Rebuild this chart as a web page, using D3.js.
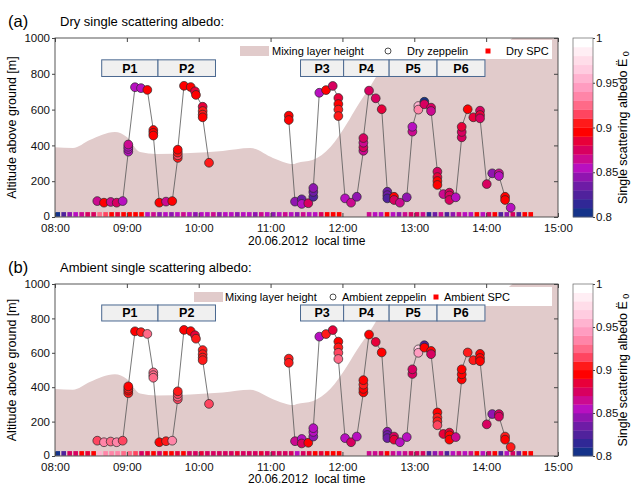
<!DOCTYPE html>
<html><head><meta charset="utf-8">
<script src="https://cdn.jsdelivr.net/npm/d3@7"></script>
<style>body{margin:0;background:#fff} svg{font-family:"Liberation Sans",Arial,sans-serif}</style>
</head><body><svg id="c" width="633" height="486"></svg>
<script>
// ---------- data ----------
// Mixing layer height (minutes after 08:00, metres)
const mlhTime   = [0, 15, 29, 50, 60, 71, 85, 113, 140, 163, 182, 199, 202, 215, 230, 244, 252, 263, 271, 288, 322, 360, 382, 420];
const mlhHeight = [389, 385, 430, 475, 447, 363, 352, 358, 369, 385, 330, 296, 302, 318, 391, 525, 615, 726, 804, 838, 860, 883, 1000, 1200];

// Zeppelin measurements (minutes after 08:00)
const zepTime = [35.3,40.9,46.5,51.5,56.5, 61.2,61.2,61.2,61.2, 66.8,71.8,77.1, 82.1,82.1,82.1, 87.1,92.7,97.9,
  102.5,102.5,102.5,102.5, 107.7,113.3,116.9,117.7, 123.3,123.3,123.3,123.3, 128.6,
  195.2,195.2, 200.4,206,206,211.5, 215.7,215.7,215.7, 220.7,226.3,231.9, 236.6,236.6,236.6,236.6,
  242.2,247.2,252, 257.5,257.5,257.5,257.5, 262.2,267.8,272.8, 277.5,277.5,277.5, 283.1,283.1, 288,293.7,
  298.4,298.4, 303.4,303.4, 308.4,308.4, 314,314, 319.3,319.3,319.3,319.3, 324.3, 329.3,329.3,329.3, 334.6,
  339.6,339.6,339.6, 344.6,349.3, 354.9,354.9,354.9, 360.5,365.1, 370.7,370.7, 375.8,375.8, 380.5];
const zepAlt = [89,80,84,80,89, 365,380,392,405, 725,720,710, 486,470,455, 80,86,89, 330,345,360,376,
  733,726,702,682, 616,592,572,557, 303,
  566,542, 86,99,73,77, 113,140,162, 694,709,732, 665,631,600,564, 104,80,113, 370,390,415,441,
  706,663,602, 141,122,104, 113,95, 80,110, 477,504, 620,600, 644,630, 611,592, 253,223,201,179, 128,
  136,120,95, 110, 445,475,504, 602,557, 594,570,551, 184,244, 244,229, 113,95, 52];
const zepDry = [0.865,0.895,0.865,0.87,0.86, 0.855,0.85,0.86,0.865, 0.86,0.855,0.895, 0.895,0.89,0.895,
  0.89,0.865,0.895, 0.905,0.91,0.9,0.895, 0.895,0.895,0.885,0.895, 0.885,0.905,0.9,0.895, 0.905,
  0.895,0.895, 0.845,0.835,0.86,0.875, 0.825,0.84,0.845, 0.855,0.895,0.88, 0.885,0.895,0.9,0.905,
  0.855,0.865,0.845, 0.865,0.87,0.865,0.87, 0.88,0.88,0.885, 0.84,0.835,0.83, 0.895,0.87, 0.865,0.845,
  0.865,0.855, 0.955,0.94, 0.81,0.88, 0.88,0.865, 0.88,0.885,0.89,0.895, 0.865, 0.87,0.875,0.88, 0.85,
  0.88,0.88,0.885, 0.895,0.885, 0.88,0.885,0.88, 0.88,0.845, 0.865,0.855, 0.895,0.89, 0.86];
const zepAmb = [0.915,0.93,0.925,0.935,0.915, 0.9,0.895,0.9,0.89, 0.895,0.9,0.92, 0.92,0.925,0.92,
  0.895,0.9,0.93, 0.915,0.92,0.91,0.9, 0.895,0.895,0.885,0.9, 0.9,0.905,0.9,0.9, 0.915,
  0.9,0.9, 0.865,0.855,0.87,0.895, 0.845,0.86,0.85, 0.86,0.9,0.885, 0.895,0.9,0.91,0.925,
  0.86,0.87,0.85, 0.89,0.895,0.9,0.895, 0.895,0.885,0.895, 0.845,0.84,0.835, 0.875,0.885, 0.86,0.85,
  0.88,0.87, 0.96,0.945, 0.83,0.895, 0.895,0.88, 0.895,0.9,0.905,0.91, 0.885, 0.885,0.895,0.89, 0.865,
  0.895,0.895,0.895, 0.9,0.9, 0.895,0.895,0.895, 0.88,0.845, 0.88,0.87, 0.9,0.895, 0.9];
const zepGapAfter = 31; // flight line interrupted after the 31st point

// SPC ground measurements: 5-min slots in two blocks
const spcBlockStart = [0, 260]; // 08:00 and 12:20 (minutes after 08:00)
const spcDry1 = [0.81,0.83,0.845,0.86,0.865,0.875,0.87,0.92,0.91,0.895,0.885,0.895,0.895,0.89,0.895,0.85,
  0.865,0.845,0.86,0.845,0.85,0.865,0.855,0.845,0.86,0.85,0.865,0.845,0.855,0.86,0.845,0.86,0.85,0.845,0.865,
  0.85,0.845,0.86,0.865,0.86,0.845,0.865,0.86,0.85,0.875,0.895,0.895,0.895];
const spcDry2 = [0.865,0.86,0.855,0.895,0.86,0.845,0.865,0.87,0.88,0.865,0.815,0.84,0.865,0.82,0.845,0.865,
  0.85,0.86,0.895,0.86,0.88,0.895,0.82,0.845,0.88,0.83,0.895,0.895];
const spcAmb1 = [0.81,0.83,0.87,0.88,0.895,0.885,0.895,0.95,0.935,0.93,0.935,0.925,0.92,0.915,0.88,0.885,
  0.895,0.88,0.895,0.895,0.885,0.895,0.87,0.88,0.885,0.87,0.88,0.87,0.88,0.87,0.885,0.88,0.87,0.88,0.885,
  0.87,0.88,0.87,0.88,0.87,0.86,0.88,0.885,0.895,0.885,0.895,0.895,0.895];
const spcAmb2 = [0.865,0.865,0.88,0.895,0.865,0.85,0.865,0.875,0.88,0.875,0.82,0.845,0.865,0.825,0.85,0.865,
  0.855,0.865,0.895,0.86,0.88,0.895,0.82,0.85,0.88,0.835,0.895,0.895];

// Flight patterns
const patternLabels = ["P1","P2","P3","P4","P5","P6"];
const patternStart  = [39, 86, 205, 241, 279, 319];
const patternEnd    = [86, 134, 241, 279, 319, 359];

// Colour map (20 steps from 0.80 to 1.00)
const cmapColors = ["#15338a","#302896","#50229c","#6e1ca6","#9015b0","#b810c0","#cc0a90","#d80060","#e8003a","#ff0000",
  "#ff1a1a","#ff4560","#ff6a88","#ff85a8","#ff9cc0","#ffb3d0","#ffcce0","#ffdde9","#ffeef4","#ffffff"];
const cbTicks = [0.8, 0.85, 0.9, 0.95, 1];
const altTicks = [0, 200, 400, 600, 800, 1000];

// ---------- drawing ----------
const svg = d3.select("#c");
const base = new Date(2012, 5, 20, 8, 0);
const tm = m => new Date(base.getTime() + m * 60000);
const x = d3.scaleTime().domain([tm(0), tm(420)]).range([55, 558]);
const color = d3.scaleQuantize().domain([0.8, 1]).range(cmapColors);
const axisCol = "#444";
const FF = "Liberation Sans, Arial, sans-serif";

const panels = [
  {id:"a", top:38, bottom:217, letter:"(a)", title:"Dry single scattering albedo:", zep:zepDry, spc:[spcDry1, spcDry2],
   legend:{box:[236,40,316,19], sw:240, txt:272, circ:388, ctxt:407, sq:488, stxt:506, cy:51},
   names:["Mixing layer height","Dry zeppelin","Dry SPC"], titleY:27, dateY:245},
  {id:"b", top:284, bottom:456, letter:"(b)", title:"Ambient single scattering albedo:", zep:zepAmb, spc:[spcAmb1, spcAmb2],
   legend:{box:[188,287,364,19], sw:194, txt:225, circ:333, ctxt:342, sq:436, stxt:444, cy:297},
   names:["Mixing layer height","Ambient zeppelin","Ambient SPC"], titleY:273, dateY:483}
];

panels.forEach(p => {
  const y = d3.scaleLinear().domain([0, 1000]).range([p.bottom, p.top]);
  const g = svg.append("g");
  const clipId = "clip" + p.id;
  svg.append("clipPath").attr("id", clipId).append("rect")
    .attr("x", 55).attr("y", p.top).attr("width", 503).attr("height", p.bottom - p.top);

  // titles
  g.append("text").attr("x", 8).attr("y", p.titleY).attr("font-size", 16.5).text(p.letter);
  g.append("text").attr("x", 60).attr("y", p.titleY - 1).attr("font-size", 13).text(p.title);

  // mixing layer area
  const area = d3.area().x((d, i) => x(tm(mlhTime[i]))).y0(y(0)).y1((d, i) => y(mlhHeight[i])).curve(d3.curveMonotoneX);
  g.append("path").datum(mlhHeight).attr("d", area).attr("fill", "#e1cbcb").attr("clip-path", `url(#${clipId})`);

  // SPC squares
  const spcData = [];
  p.spc.forEach((arr, b) => arr.forEach((v, i) => spcData.push({t: spcBlockStart[b] + 5 * i, v})));
  g.selectAll("rect.spc").data(spcData).enter().append("rect").attr("class", "spc")
    .attr("x", d => x(tm(d.t)) + 0.4).attr("y", y(0) - 4.9).attr("width", 4.6).attr("height", 4.6)
    .attr("fill", d => color(d.v));

  // flight line
  const pts = zepTime.map((t, i) => ({t, a: zepAlt[i], v: p.zep[i], i}));
  const line = d3.line().x(d => x(tm(d.t))).y(d => y(d.a));
  [pts.slice(0, zepGapAfter), pts.slice(zepGapAfter)].forEach(seg =>
    g.append("path").datum(seg).attr("d", line).attr("fill", "none").attr("stroke", "#555").attr("stroke-width", 0.8));
  g.selectAll("circle.z").data(pts).enter().append("circle").attr("class", "z")
    .attr("cx", d => x(tm(d.t))).attr("cy", d => y(d.a)).attr("r", 4.4)
    .attr("fill", d => color(d.v)).attr("stroke", "#2a2a2a").attr("stroke-width", 0.7);

  // legend
  const L = p.legend;
  g.append("rect").attr("x", L.box[0]).attr("y", L.box[1]).attr("width", L.box[2]).attr("height", L.box[3]).attr("fill", "#fff");
  g.append("rect").attr("x", L.sw).attr("y", L.cy - 5).attr("width", 29).attr("height", 10).attr("fill", "#e1cbcb");
  g.append("text").attr("x", L.txt).attr("y", L.cy + 4).attr("font-size", 11).text(p.names[0]);
  g.append("circle").attr("cx", L.circ).attr("cy", L.cy).attr("r", 3).attr("fill", "#fff").attr("stroke", "#222").attr("stroke-width", 0.8);
  g.append("text").attr("x", L.ctxt).attr("y", L.cy + 4).attr("font-size", 11).text(p.names[1]);
  g.append("rect").attr("x", L.sq - 2.5).attr("y", L.cy - 2.5).attr("width", 5).attr("height", 5).attr("fill", "#ff0000");
  g.append("text").attr("x", L.stxt).attr("y", L.cy + 4).attr("font-size", 11).text(p.names[2]);

  // pattern boxes
  const pb = g.selectAll("g.pb").data(patternLabels).enter().append("g");
  pb.append("rect").attr("x", (d, i) => x(tm(patternStart[i]))).attr("y", y(878))
    .attr("width", (d, i) => x(tm(patternEnd[i])) - x(tm(patternStart[i]))).attr("height", y(785) - y(878))
    .attr("fill", "#f0f0f0").attr("stroke", "#4a6890").attr("stroke-width", 1);
  pb.append("text").attr("x", (d, i) => (x(tm(patternStart[i])) + x(tm(patternEnd[i]))) / 2)
    .attr("y", (y(878) + y(785)) / 2 + 4.5).attr("text-anchor", "middle").attr("font-size", 12.5)
    .attr("font-weight", "bold").text(d => d);

  // frame
  g.append("rect").attr("x", 55).attr("y", p.top).attr("width", 503).attr("height", p.bottom - p.top)
    .attr("fill", "none").attr("stroke", axisCol).attr("stroke-width", 0.9);

  // axes
  const ax = g.append("g").attr("transform", `translate(0,${p.bottom})`)
    .call(d3.axisBottom(x).ticks(d3.timeHour.every(1)).tickFormat(d3.timeFormat("%H:%M")).tickSize(-4).tickPadding(7));
  ax.select(".domain").remove();
  ax.selectAll("line").attr("stroke", axisCol);
  ax.selectAll("text").attr("font-size", 11.5).attr("fill", "#111").attr("font-family", FF);
  const axt = g.append("g").attr("transform", `translate(0,${p.top})`)
    .call(d3.axisTop(x).ticks(d3.timeHour.every(1)).tickFormat("").tickSize(-4));
  axt.select(".domain").remove(); axt.selectAll("line").attr("stroke", axisCol);
  const ayl = g.append("g").attr("transform", "translate(55,0)")
    .call(d3.axisLeft(y).tickValues(altTicks).tickFormat(d3.format("d")).tickSize(3).tickPadding(2));
  ayl.select(".domain").remove(); ayl.selectAll("line").attr("stroke", axisCol);
  ayl.selectAll("text").attr("font-size", 11.5).attr("fill", "#111").attr("font-family", FF)
    .attr("dy", d => d === 0 ? "0.2em" : "0.32em");
  const ayr = g.append("g").attr("transform", "translate(558,0)")
    .call(d3.axisRight(y).tickValues(altTicks).tickFormat("").tickSize(-4));
  ayr.select(".domain").remove(); ayr.selectAll("line").attr("stroke", axisCol);

  g.append("text").attr("transform", `translate(16,${(p.top + p.bottom) / 2}) rotate(-90)`)
    .attr("text-anchor", "middle").attr("font-size", 12.5).text("Altitude above ground [m]");
  g.append("text").attr("x", 248).attr("y", p.dateY).attr("font-size", 12).attr("xml:space", "preserve")
    .text("20.06.2012  local time");

  // colour bar
  const cy = d3.scaleLinear().domain([0.8, 1]).range([p.bottom, p.top]);
  const cb = g.append("g");
  cb.selectAll("rect.cb").data(cmapColors).enter().append("rect")
    .attr("x", 573).attr("width", 20)
    .attr("y", (d, i) => cy(0.8 + (i + 1) * 0.01)).attr("height", (d, i) => cy(0.8 + i * 0.01) - cy(0.8 + (i + 1) * 0.01) + 0.3)
    .attr("fill", d => d);
  cb.append("rect").attr("x", 573).attr("y", p.top).attr("width", 20).attr("height", p.bottom - p.top)
    .attr("fill", "none").attr("stroke", "#666").attr("stroke-width", 0.7);
  const ca = cb.append("g").attr("transform", "translate(593,0)")
    .call(d3.axisRight(cy).tickValues(cbTicks).tickFormat(d => d === 1 ? "1" : d3.format(".2~f")(d)).tickSize(2).tickPadding(1));
  ca.select(".domain").remove(); ca.selectAll("line").attr("stroke", axisCol);
  ca.selectAll("text").attr("font-size", 11.5).attr("fill", "#111").attr("font-family", FF);
  const ct = g.append("text").attr("transform", `translate(627,${(p.top + p.bottom) / 2}) rotate(-90)`)
    .attr("text-anchor", "middle").attr("font-size", 12.5);
  ct.append("tspan").text("Single scattering albedo Ë");
  ct.append("tspan").attr("font-size", 9).attr("dy", 2).text(" 0");
});
</script></body></html>
